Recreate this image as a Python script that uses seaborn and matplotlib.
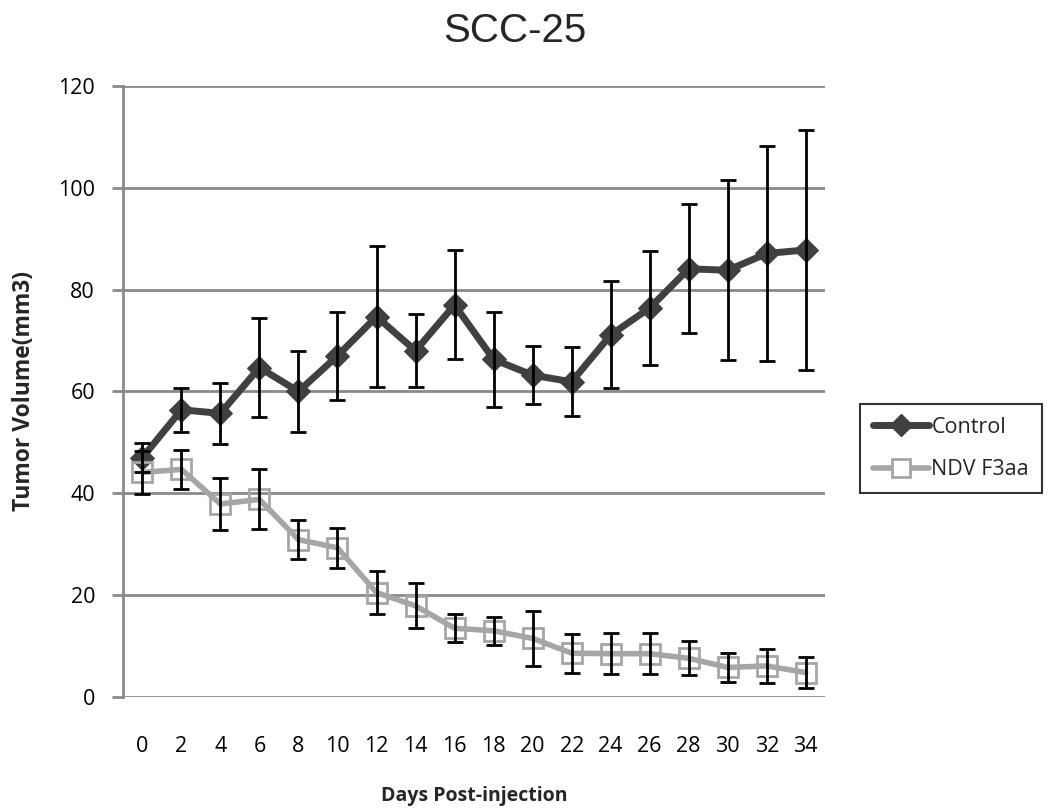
import matplotlib
matplotlib.use("Agg")
import matplotlib.pyplot as plt
import seaborn as sns
import pandas as pd
import numpy as np
from matplotlib.lines import Line2D

days = [0, 2, 4, 6, 8, 10, 12, 14, 16, 18, 20, 22, 24, 26, 28, 30, 32, 34]
control_mean = [47.0, 56.4, 55.7, 64.7, 60.0, 67.0, 74.7, 68.0, 77.0, 66.3, 63.2, 61.9, 71.1, 76.4, 84.1, 83.8, 87.1, 87.8]
control_err = [2.8, 4.3, 6.0, 9.8, 7.9, 8.6, 13.8, 7.2, 10.7, 9.3, 5.7, 6.8, 10.5, 11.2, 12.7, 17.7, 21.1, 23.6]
ndv_mean = [44.1, 44.7, 37.9, 38.8, 30.9, 29.3, 20.5, 17.9, 13.5, 13.0, 11.5, 8.6, 8.5, 8.5, 7.6, 5.8, 6.1, 4.8]
ndv_err = [4.3, 3.9, 5.1, 5.9, 3.8, 3.9, 4.3, 4.4, 2.8, 2.7, 5.4, 3.8, 4.0, 4.0, 3.3, 2.9, 3.3, 3.1]
series_names = ["Control", "NDV F3aa"]
y_ticks = [0, 20, 40, 60, 80, 100, 120]

sns.set_theme(style="white")
plt.rcParams["font.family"] = ["Open Sans", "DejaVu Sans"]

fig = plt.figure(figsize=(10.5, 8.08), dpi=100)
ax = fig.add_axes([0.117, 0.1374, 0.669, 0.7562])

df = pd.DataFrame({
    "day": days * 2,
    "vol": control_mean + ndv_mean,
    "group": [series_names[0]] * len(days) + [series_names[1]] * len(days),
})

for yv in y_ticks:
    ax.axhline(yv, color="#8a8a8a", lw=2, zorder=1)

c_dark = "#404040"
c_light = "#a6a6a6"

sns.lineplot(data=df[df.group == series_names[0]], x="day", y="vol", ax=ax,
             color=c_dark, lw=5, marker="D", markersize=12.5,
             markeredgecolor=c_dark, markerfacecolor=c_dark, zorder=3,
             legend=False)
sns.lineplot(data=df[df.group == series_names[1]], x="day", y="vol", ax=ax,
             color=c_light, lw=4, marker="s", markersize=14,
             markeredgecolor=c_light, markerfacecolor="none", markeredgewidth=2,
             zorder=4, legend=False)

ax.errorbar(days, control_mean, yerr=control_err, fmt="none", ecolor="black",
            elinewidth=2, capsize=6, capthick=2, zorder=5)
ax.errorbar(days, ndv_mean, yerr=ndv_err, fmt="none", ecolor="black",
            elinewidth=2, capsize=6, capthick=2, zorder=5)

ax.set_xlim(-1, 35)
ax.set_ylim(0, 120)
ax.set_xticks(days)
ax.set_xticklabels([str(d) for d in days])
ax.set_yticks(y_ticks)
ax.set_yticklabels([str(v) for v in y_ticks])

for s in ["top", "right", "bottom"]:
    ax.spines[s].set_visible(False)
ax.spines["left"].set_color("#8a8a8a")
ax.spines["left"].set_linewidth(2)

ax.tick_params(axis="x", length=0, pad=28, labelsize=15.5, colors="black")
ax.tick_params(axis="y", length=8, width=2, color="#8a8a8a", pad=12,
               labelsize=15.5, labelcolor="black", direction="out", left=True)

ax.set_xlabel("Days Post-injection", fontsize=14, fontweight="bold", labelpad=21)
ax.set_ylabel("Tumor Volume(mm3)", fontsize=16.5, fontweight="bold", labelpad=16)
fig.text(0.49, 0.962, "SCC-25", ha="center", va="center", fontsize=29,
         family="Liberation Sans")

handles = [
    Line2D([0], [0], color=c_dark, lw=5, marker="D", markersize=11,
           markerfacecolor=c_dark, markeredgecolor=c_dark),
    Line2D([0], [0], color=c_light, lw=4, marker="s", markersize=13,
           markerfacecolor="white", markeredgecolor=c_light, markeredgewidth=2),
]
leg = fig.legend(handles, series_names, loc="center left",
                 bbox_to_anchor=(0.809, 0.445), fontsize=15.5, frameon=True,
                 fancybox=False, edgecolor="black", handlelength=2.6,
                 labelspacing=1.0, borderpad=0.6, handletextpad=0.1)
leg.get_frame().set_linewidth(1.5)

fig.savefig("out.png", dpi=100, facecolor="white")
